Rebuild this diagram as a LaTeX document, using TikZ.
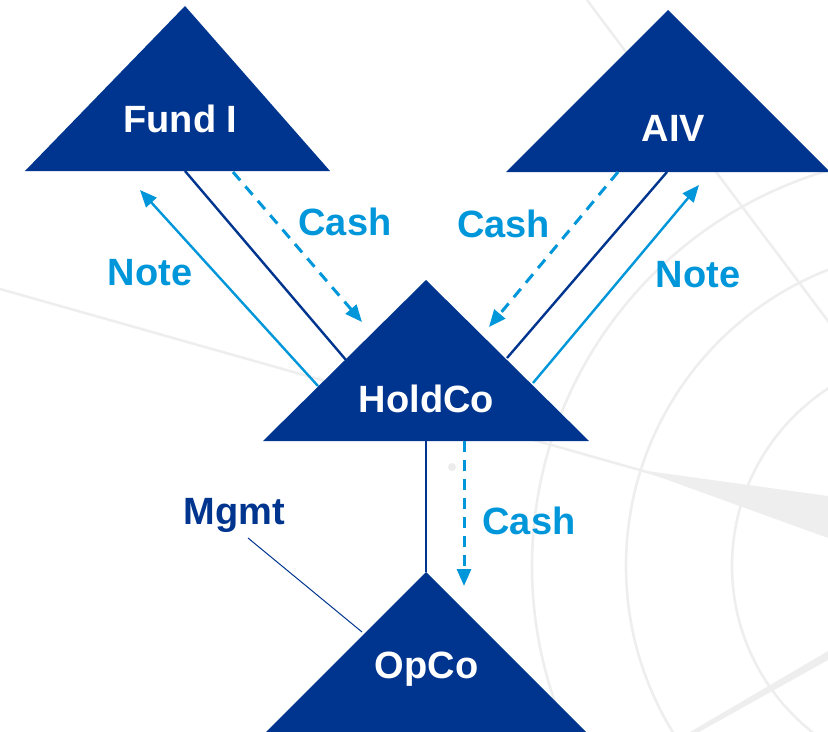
\documentclass[tikz,border=0pt]{standalone}
\usepackage{fontspec}
\setmainfont{Liberation Sans}
\usetikzlibrary{arrows.meta}
\definecolor{navy}{RGB}{0,53,143}
\definecolor{skyblue}{RGB}{0,150,218}
\definecolor{bggray}{RGB}{238,238,238}
\tikzstyle{entity} = [text=white, font=\fontsize{38bp}{40bp}\selectfont\bfseries, anchor=base]
\tikzstyle{flowlabel} = [text=skyblue, font=\fontsize{38bp}{40bp}\selectfont\bfseries, anchor=base]
\tikzstyle{own} = [navy, line width=2.4bp]
\tikzstyle{note} = [skyblue, line width=2.4bp, -{Triangle[length=17bp,width=14bp]}]
\tikzstyle{cash} = [skyblue, line width=3bp, dash pattern=on 11bp off 8bp, -{Triangle[length=17bp,width=14bp]}]
\tikzstyle{bgline} = [bggray, line width=2.6bp]

\begin{document}
\begin{tikzpicture}[x=1bp, y=-1bp]

\clip (0,0) rectangle (828,732);

% Background
\draw[bgline] (944,566) circle[radius=412bp];
\draw[bgline] (944,566) circle[radius=318bp];
\draw[bgline] (944,566) circle[radius=212bp];
\draw[bgline] (587,0) -- (840,337);
\draw[bgline] (0,289) -- (661,476);
\fill[bggray] (640,470) -- (828,496) -- (828,538) -- cycle;
\fill[bggray] (690,732) -- (828,651) -- (828,660) -- (699,732) -- cycle;
\fill[gray!15] (452,467) circle[radius=4bp];

% Entities
\fill[navy] (185,6) -- (25,171) -- (330,171) -- cycle;
\fill[navy] (668,10) -- (506,172) -- (830,172) -- cycle;
\fill[navy] (426,280) -- (263,441) -- (589,441) -- cycle;
\fill[navy] (426,572) -- (263,735) -- (589,735) -- cycle;

\node[entity] (fund) at (180.5,133) {Fund I};
\node[entity] (aiv) at (673.5,142) {AIV};
\node[entity] (holdco) at (426.5,412) {HoldCo};
\node[entity] (opco) at (426.5,678) {OpCo};

% Connection points
\coordinate (fundOwn) at (185,171);
\coordinate (fundCash) at (233,172);
\coordinate (fundNote) at (140,190);
\coordinate (aivOwn) at (667,172);
\coordinate (aivCash) at (618,172);
\coordinate (aivNote) at (699,185);
\coordinate (holdOwnL) at (346,360);
\coordinate (holdCashL) at (362,322);
\coordinate (holdNoteL) at (318,386);
\coordinate (holdOwnR) at (507,358);
\coordinate (holdCashR) at (489,327);
\coordinate (holdNoteR) at (533,383);
\coordinate (holdOwnB) at (426,441);
\coordinate (holdCashB) at (464,441);
\coordinate (opcoOwn) at (426,572);
\coordinate (opcoCash) at (464,586);
\coordinate (opcoMgmt) at (362,632);
\coordinate (mgmtEnd) at (248,538);

% Fund I side
\draw[own] (fundOwn) -- (holdOwnL);
\draw[cash] (fundCash) -- (holdCashL);
\draw[note] (holdNoteL) -- (fundNote);

% AIV side
\draw[own] (aivOwn) -- (holdOwnR);
\draw[cash] (aivCash) -- (holdCashR);
\draw[note] (holdNoteR) -- (aivNote);

% HoldCo to OpCo
\draw[own] (holdOwnB) -- (opcoOwn);
\draw[cash] (holdCashB) -- (opcoCash);
\draw[navy, line width=1bp] (mgmtEnd) -- (opcoMgmt);

% Labels
\node[flowlabel] (noteL) at (150,285) {Note};
\node[flowlabel] (cashL) at (345,235) {Cash};
\node[flowlabel] (cashR) at (503.5,237) {Cash};
\node[flowlabel] (noteR) at (698,287) {Note};
\node[flowlabel] (cashB) at (529,534) {Cash};
\node[flowlabel, text=navy] (mgmt) at (234,524) {Mgmt};

\end{tikzpicture}
\end{document}
